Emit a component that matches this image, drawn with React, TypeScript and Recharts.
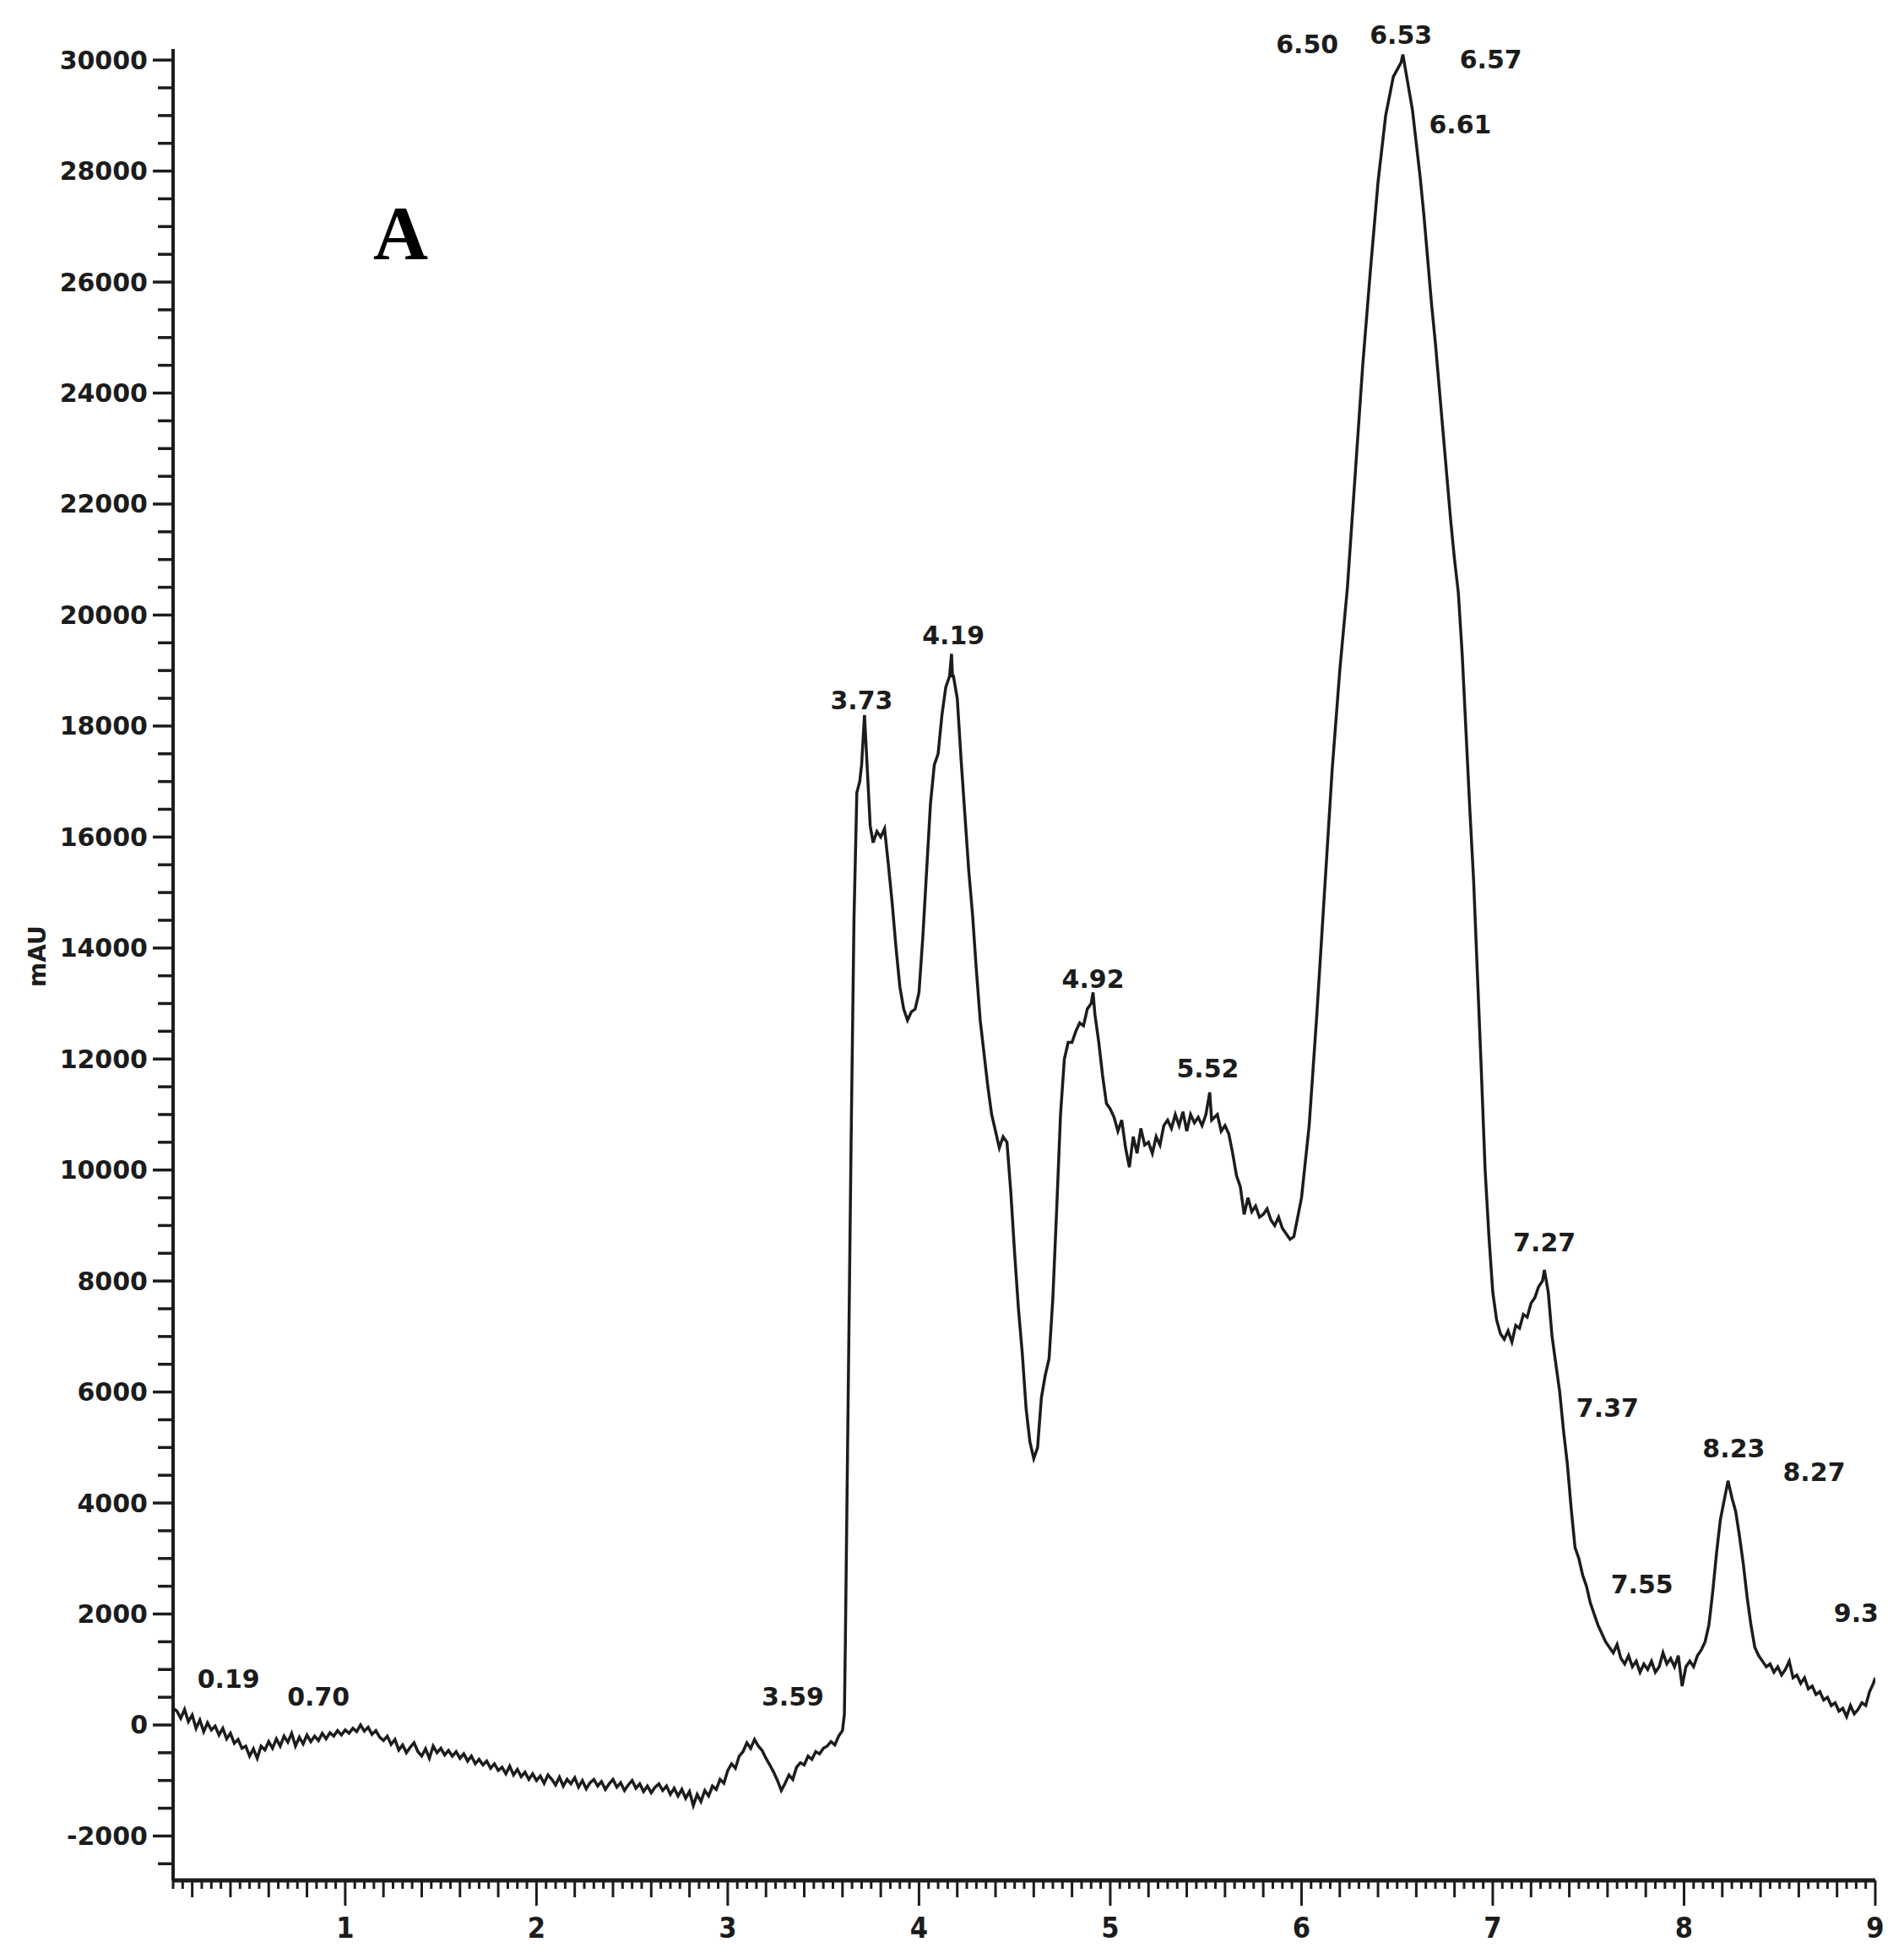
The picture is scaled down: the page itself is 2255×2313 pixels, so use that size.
import React from "react";
import { LineChart, Line, XAxis, YAxis, ReferenceDot } from "recharts";

// chromatogram trace, [retention time (min), signal (mAU)]
const baseline: [number, number][] = [
  [0.1, 300], [0.12, 250], [0.14, 120], [0.16, 280], [0.18, 60], [0.2, 180], [0.22, -60],
  [0.24, 90], [0.26, -120], [0.28, 40], [0.3, -90], [0.32, -20], [0.34, -180], [0.36, -60],
  [0.38, -250], [0.4, -150], [0.42, -330], [0.44, -260], [0.46, -420], [0.48, -380], [0.5, -560],
  [0.52, -430], [0.54, -600], [0.56, -380], [0.58, -450], [0.6, -300], [0.62, -420], [0.64, -250],
  [0.66, -380], [0.68, -200], [0.7, -310], [0.72, -150], [0.74, -380], [0.76, -220], [0.78, -340],
  [0.8, -180], [0.82, -300], [0.84, -200], [0.86, -280], [0.88, -150], [0.9, -250], [0.92, -140],
  [0.94, -200], [0.96, -100], [0.98, -180], [1.0, -90], [1.02, -150], [1.04, -60], [1.06, -120],
  [1.08, 0], [1.1, -110], [1.12, -40], [1.14, -170], [1.16, -100], [1.18, -220], [1.2, -280],
  [1.22, -200], [1.24, -350], [1.26, -260], [1.28, -450], [1.3, -360], [1.32, -500], [1.34, -400],
  [1.36, -320], [1.38, -480], [1.4, -560], [1.42, -430], [1.44, -600], [1.46, -380], [1.48, -500],
  [1.5, -420], [1.52, -540], [1.54, -460], [1.56, -560], [1.58, -480], [1.6, -600], [1.62, -520],
  [1.64, -650], [1.66, -560], [1.68, -700], [1.7, -620], [1.72, -720], [1.74, -650], [1.76, -780],
  [1.78, -700], [1.8, -820], [1.82, -760], [1.84, -880], [1.86, -740], [1.88, -900], [1.9, -800],
  [1.92, -930], [1.94, -850], [1.96, -980], [1.98, -880], [2.0, -1000], [2.02, -920], [2.04, -1050],
  [2.06, -900], [2.08, -980], [2.1, -1080], [2.12, -940], [2.14, -1100], [2.16, -980], [2.18, -1060],
  [2.2, -950], [2.22, -1120], [2.24, -1000], [2.26, -1150], [2.28, -1040], [2.3, -980], [2.32, -1100],
  [2.34, -1020], [2.36, -1160], [2.38, -1060], [2.4, -980], [2.42, -1120], [2.44, -1040], [2.46, -1180],
  [2.48, -1080], [2.5, -1000], [2.52, -1140], [2.54, -1060], [2.56, -1200], [2.58, -1100], [2.6, -1220],
  [2.62, -1120], [2.64, -1060], [2.66, -1180], [2.68, -1100], [2.7, -1250], [2.72, -1140], [2.74, -1280],
  [2.76, -1160], [2.78, -1320], [2.8, -1200], [2.82, -1450], [2.84, -1250], [2.86, -1380], [2.88, -1180],
  [2.9, -1280], [2.92, -1100], [2.94, -1160], [2.96, -980], [2.98, -1050], [3.0, -820], [3.02, -700],
  [3.04, -780], [3.06, -560], [3.08, -480], [3.1, -320], [3.12, -420], [3.14, -260], [3.16, -380],
  [3.18, -460], [3.2, -600], [3.22, -720], [3.24, -850], [3.26, -1000], [3.28, -1180], [3.3, -1050],
  [3.32, -900], [3.34, -980], [3.36, -760], [3.38, -680], [3.4, -720], [3.42, -560], [3.44, -620],
  [3.46, -480], [3.48, -520], [3.5, -420], [3.52, -380], [3.54, -300], [3.56, -360], [3.58, -200],
  [3.6, -100],
];

const firstPeaks: [number, number][] = [
  [3.61, 200], [3.615, 1500], [3.63, 6000], [3.645, 10500], [3.66, 14500], [3.675, 16800],
  [3.69, 17000], [3.7, 17300], [3.715, 18200], [3.73, 17200], [3.745, 16200], [3.76, 15900],
  [3.78, 16100], [3.8, 16000], [3.82, 16150], [3.84, 15500], [3.86, 14800], [3.88, 14000],
  [3.9, 13300], [3.92, 12900], [3.94, 12700], [3.96, 12850], [3.98, 12900], [4.0, 13200],
  [4.02, 14200], [4.04, 15400], [4.06, 16600], [4.08, 17300], [4.1, 17500], [4.12, 18200],
  [4.14, 18700], [4.16, 18900], [4.17, 19300], [4.175, 18900], [4.18, 18900], [4.2, 18500],
  [4.22, 17400], [4.24, 16400], [4.26, 15400], [4.28, 14600], [4.3, 13600], [4.32, 12700],
  [4.34, 12100], [4.36, 11500], [4.38, 11000], [4.4, 10700], [4.42, 10400], [4.44, 10600],
  [4.46, 10500], [4.48, 9600], [4.5, 8500], [4.52, 7500], [4.54, 6700], [4.56, 5700],
  [4.58, 5100], [4.6, 4800], [4.62, 5000], [4.64, 5900], [4.66, 6300], [4.68, 6600],
  [4.7, 7700], [4.72, 9300], [4.74, 11000], [4.76, 12000], [4.78, 12300], [4.8, 12300],
  [4.82, 12500], [4.84, 12650], [4.86, 12600], [4.88, 12900], [4.9, 13000], [4.91, 13200],
  [4.92, 12800], [4.94, 12300], [4.96, 11700], [4.98, 11200],
];

const plateau: [number, number][] = [
  [5.0, 11100], [5.02, 10950], [5.04, 10700], [5.06, 10900], [5.08, 10400], [5.1, 10050],
  [5.12, 10600], [5.14, 10300], [5.16, 10750], [5.18, 10450], [5.2, 10500], [5.22, 10300],
  [5.24, 10600], [5.26, 10450], [5.28, 10800], [5.3, 10900], [5.32, 10750], [5.34, 11000],
  [5.36, 10800], [5.38, 11050], [5.4, 10700], [5.42, 11000], [5.44, 10850], [5.46, 10950],
  [5.48, 10800], [5.5, 11000], [5.52, 11400], [5.53, 10900], [5.56, 11000], [5.58, 10700],
  [5.6, 10800], [5.62, 10650], [5.64, 10300], [5.66, 9900], [5.68, 9700], [5.7, 9200],
  [5.72, 9500], [5.74, 9250], [5.76, 9350], [5.78, 9150], [5.8, 9200], [5.82, 9300],
  [5.84, 9100], [5.86, 9000], [5.88, 9150], [5.9, 8950], [5.92, 8850], [5.94, 8750],
  [5.96, 8800],
];

const mainPeak: [number, number][] = [
  [6.0, 9500], [6.04, 10800], [6.08, 12800], [6.12, 15000], [6.16, 17200], [6.2, 19000],
  [6.24, 20500], [6.28, 22500], [6.32, 24500], [6.36, 26200], [6.4, 27800], [6.44, 29000],
  [6.48, 29700], [6.52, 29950], [6.53, 30100], [6.54, 29900], [6.56, 29500], [6.58, 29100],
  [6.6, 28500], [6.62, 27900], [6.64, 27200], [6.66, 26400], [6.68, 25600], [6.7, 24900],
  [6.72, 24100], [6.74, 23300], [6.76, 22500], [6.78, 21700], [6.8, 21000], [6.82, 20400],
  [6.84, 19300], [6.86, 17900], [6.88, 16500], [6.9, 15200], [6.92, 13500], [6.94, 11800],
  [6.96, 10000], [6.98, 8800], [7.0, 7800], [7.02, 7300],
];

const tail: [number, number][] = [
  [7.04, 7050], [7.06, 6950], [7.08, 7100], [7.1, 6900], [7.12, 7200], [7.14, 7150],
  [7.16, 7400], [7.18, 7350], [7.2, 7600], [7.22, 7700], [7.24, 7900], [7.26, 8000],
  [7.27, 8200], [7.29, 7800], [7.31, 7000], [7.33, 6500], [7.35, 6000], [7.37, 5300],
  [7.39, 4700], [7.41, 3900], [7.43, 3200], [7.45, 3000], [7.47, 2700], [7.49, 2500],
  [7.51, 2200], [7.53, 2000], [7.55, 1800], [7.57, 1650], [7.59, 1500], [7.61, 1400],
  [7.63, 1300], [7.65, 1450], [7.67, 1200], [7.69, 1100], [7.71, 1250], [7.73, 1050],
  [7.75, 1150], [7.77, 950], [7.79, 1100], [7.81, 1000], [7.83, 1150], [7.85, 950],
  [7.87, 1050], [7.89, 1300], [7.91, 1100], [7.93, 1200], [7.95, 1050], [7.97, 1250],
  [7.99, 700], [8.01, 1050], [8.03, 1150], [8.05, 1050], [8.07, 1250], [8.09, 1350],
  [8.11, 1500], [8.13, 1800], [8.15, 2400], [8.17, 3100], [8.19, 3700], [8.21, 4050],
  [8.23, 4400], [8.25, 4100], [8.27, 3850], [8.29, 3400], [8.31, 2900], [8.33, 2300],
  [8.35, 1800], [8.37, 1400], [8.39, 1250], [8.41, 1150], [8.43, 1050], [8.45, 1100],
  [8.47, 950], [8.49, 1050], [8.51, 900], [8.53, 1000], [8.55, 1150], [8.57, 850],
  [8.59, 900], [8.61, 750], [8.63, 850], [8.65, 650], [8.67, 700], [8.69, 550],
  [8.71, 600], [8.73, 450], [8.75, 500], [8.77, 350], [8.79, 400], [8.81, 250],
  [8.83, 300], [8.85, 150], [8.87, 350], [8.89, 200], [8.91, 280], [8.93, 400],
  [8.95, 350], [8.97, 600], [8.99, 750], [9.0, 850],
];

// peak annotations: text, centre of the text in data units
const peakText = ["0.19", "0.70", "3.59", "3.73", "4.19", "4.92", "5.52", "6.50", "6.53", "6.57", "6.61", "7.27", "7.37", "7.55", "8.23", "8.27", "9.3"];
const peakTextX = [0.39, 0.86, 3.34, 3.7, 4.18, 4.91, 5.51, 6.03, 6.52, 6.99, 6.83, 7.27, 7.6, 7.78, 8.26, 8.68, 8.9];
const peakTextY = [830, 516, 516, 18470, 19640, 13450, 11830, 30280, 30460, 30010, 28840, 8690, 5720, 2540, 4980, 4560, 2020];

const xMajorTicks = [1, 2, 3, 4, 5, 6, 7, 8, 9];
const yMajorTicks = [-2000, 0, 2000, 4000, 6000, 8000, 10000, 12000, 14000, 16000, 18000, 20000, 22000, 24000, 26000, 28000, 30000];

const data = [...baseline, ...firstPeaks, ...plateau, ...mainPeak, ...tail].map(([t, v]) => ({ t, v }));

const xTicks: number[] = [];
for (let i = 2; i <= 180; i++) xTicks.push(Math.round(i * 5) / 100);
const yTicks: number[] = [];
for (let v = -2500; v <= 30000; v += 500) yTicks.push(v);

const INK = "#1c1c1c";

function XTick({ x, y, payload }: any) {
  const v = payload.value;
  const major = xMajorTicks.includes(v);
  const mid = Math.abs(v * 5 - Math.round(v * 5)) < 1e-6;
  const len = major ? 30 : mid ? 20 : 10;
  return (
    <g>
      <line x1={x} x2={x} y1={y} y2={y + len} stroke={INK} strokeWidth={3} />
      {major && (
        <text
          x={x}
          y={y + 56}
          textAnchor="middle"
          dominantBaseline="central"
          fontFamily="'Liberation Sans Narrow', 'DejaVu Sans Condensed', 'Liberation Sans', Arial"
          fontWeight="bold"
          fontSize={34}
          fill={INK}
        >
          {v}
        </text>
      )}
    </g>
  );
}

function YTick({ x, y, payload }: any) {
  const v = payload.value;
  const major = yMajorTicks.includes(v);
  return (
    <g>
      <line x1={x - (major ? 24 : 18)} x2={x} y1={y} y2={y} stroke={INK} strokeWidth={3.5} />
      {major && (
        <text
          x={x - 30}
          y={y}
          textAnchor="end"
          dominantBaseline="central"
          fontFamily="'DejaVu Sans', Arial"
          fontWeight="bold"
          fontSize={30}
          fill={INK}
        >
          {v}
        </text>
      )}
    </g>
  );
}

export default function App() {
  return (
    <div style={{ position: "absolute", left: 0, top: 0, width: 2255, height: 2313, background: "#fff" }}>
      <LineChart width={2255} height={2313} data={data} margin={{ top: 58, right: 34, bottom: 0, left: 0 }}>
        <XAxis
          dataKey="t"
          type="number"
          domain={[0.1, 9]}
          allowDataOverflow
          ticks={xTicks}
          interval={0}
          tick={<XTick />}
          tickLine={false}
          tickSize={0}
          tickMargin={0}
          height={86}
          axisLine={{ stroke: INK, strokeWidth: 5 }}
        />
        <YAxis
          type="number"
          domain={[-2800, 30200]}
          allowDataOverflow
          ticks={yTicks}
          interval={0}
          tick={<YTick />}
          tickLine={false}
          tickSize={0}
          tickMargin={0}
          width={205}
          axisLine={{ stroke: INK, strokeWidth: 4 }}
          label={{
            content: ({ viewBox }: any) => {
              const cx = viewBox.x + 44;
              const cy = viewBox.y + viewBox.height / 2 - 10;
              return (
                <text
                  x={cx}
                  y={cy}
                  transform={`rotate(-90 ${cx} ${cy})`}
                  textAnchor="middle"
                  dominantBaseline="central"
                  fontFamily="'DejaVu Sans', Arial"
                  fontWeight="bold"
                  fontSize={28}
                  fill={INK}
                >
                  mAU
                </text>
              );
            },
          }}
        />
        <Line
          type="linear"
          dataKey="v"
          stroke={INK}
          strokeWidth={3.5}
          dot={false}
          isAnimationActive={false}
        />
        <ReferenceDot
          x={1.29}
          y={26900}
          r={0}
          ifOverflow="visible"
          label={{
            value: "A",
            position: "center",
            fontFamily: "'Liberation Serif', 'Times New Roman', serif",
            fontWeight: "bold",
            fontSize: 90,
            fill: "#000",
          }}
        />
        {peakText.map((s, i) => (
          <ReferenceDot
            key={s}
            x={peakTextX[i]}
            y={peakTextY[i]}
            r={0}
            ifOverflow="visible"
            label={{
              value: s,
              position: "center",
              fontFamily: "'DejaVu Sans', Arial",
              fontWeight: "bold",
              fontSize: 30,
              fill: INK,
            }}
          />
        ))}
      </LineChart>
    </div>
  );
}
